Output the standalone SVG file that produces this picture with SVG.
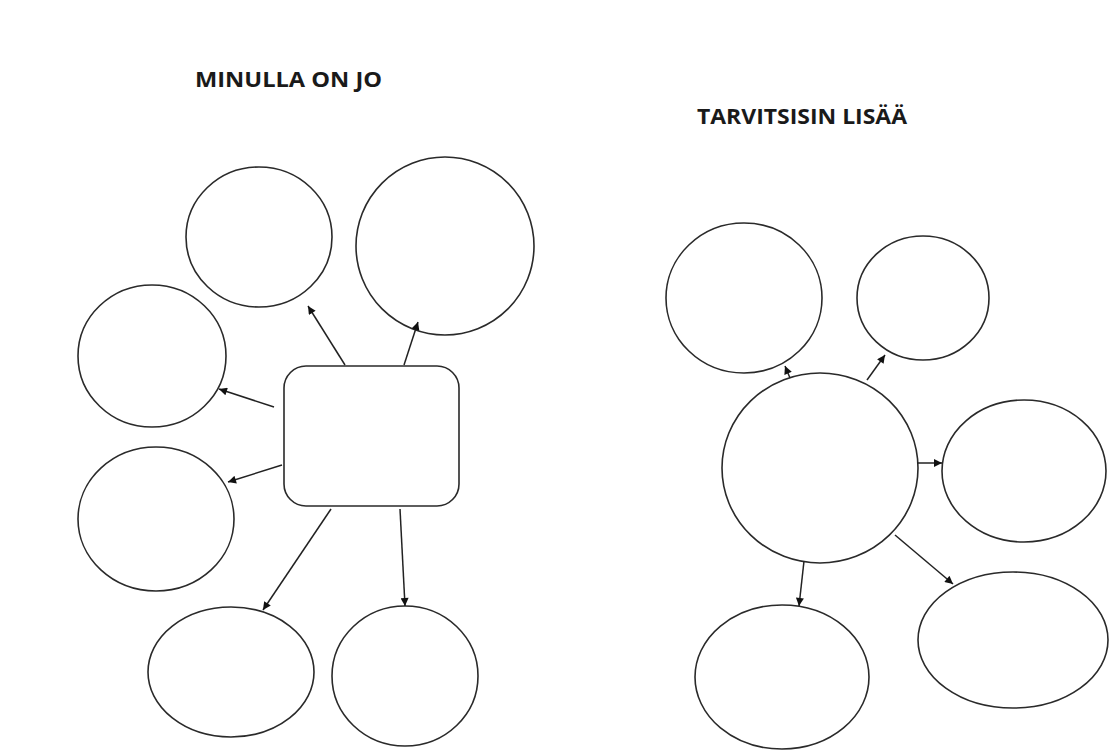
<svg xmlns="http://www.w3.org/2000/svg" width="1112" height="753" viewBox="0 0 1112 753">
<style>
.n{fill:#fff;stroke:#2a2a2a;stroke-width:1.6}
.c{stroke:#222;stroke-width:1.5;fill:none;marker-end:url(#ah)}
.t{font-family:"Open Sans","Liberation Sans",Arial,sans-serif;font-weight:bold;font-size:21px;fill:#1a1a1a}
</style>
<defs>
<marker id="ah" viewBox="0 0 10 10" refX="10" refY="5" markerWidth="9" markerHeight="8" markerUnits="userSpaceOnUse" orient="auto">
<path d="M0,0 L10,5 L0,10 z" fill="#111"/>
</marker>
</defs>
<rect width="1112" height="753" fill="#fff"/>
<text class="t" x="195" y="87" textLength="187" lengthAdjust="spacingAndGlyphs">MINULLA ON JO</text>
<text class="t" x="697" y="124" textLength="210" lengthAdjust="spacingAndGlyphs">TARVITSISIN LISÄÄ</text>
<g id="center-left"><rect class="n" x="284" y="366" width="175" height="140" rx="22"/></g>
<g id="l-a"><ellipse class="n" cx="259" cy="237" rx="73" ry="70"/></g>
<g id="l-b"><ellipse class="n" cx="445" cy="246" rx="89" ry="89"/></g>
<g id="l-c"><ellipse class="n" cx="152" cy="356" rx="74" ry="71"/></g>
<g id="l-d"><ellipse class="n" cx="156" cy="519" rx="78" ry="72"/></g>
<g id="l-e"><ellipse class="n" cx="231" cy="672" rx="83" ry="65"/></g>
<g id="l-f"><ellipse class="n" cx="405" cy="676" rx="73" ry="70"/></g>
<g id="center-right"><ellipse class="n" cx="820" cy="468" rx="98" ry="95"/></g>
<g id="r-a"><ellipse class="n" cx="744" cy="298" rx="78" ry="75"/></g>
<g id="r-b"><ellipse class="n" cx="923" cy="298" rx="66" ry="62"/></g>
<g id="r-c"><ellipse class="n" cx="1024" cy="471" rx="82" ry="71"/></g>
<g id="r-d"><ellipse class="n" cx="1013" cy="640" rx="95" ry="68"/></g>
<g id="r-e"><ellipse class="n" cx="782" cy="677" rx="87" ry="72"/></g>
<g id="connectors">
<line class="c" x1="345" y1="365" x2="308" y2="306"/>
<line class="c" x1="404" y1="365" x2="418" y2="322"/>
<line class="c" x1="274" y1="407" x2="219" y2="389"/>
<line class="c" x1="282" y1="465" x2="228" y2="482"/>
<line class="c" x1="331" y1="509" x2="263" y2="610"/>
<line class="c" x1="400" y1="509" x2="405" y2="606"/>
<line class="c" x1="790" y1="378" x2="785" y2="366"/>
<line class="c" x1="867" y1="380" x2="885" y2="355"/>
<line class="c" x1="917" y1="463" x2="942" y2="463"/>
<line class="c" x1="895" y1="535" x2="953" y2="584"/>
<line class="c" x1="804" y1="561" x2="799" y2="606"/>
</g>
</svg>
